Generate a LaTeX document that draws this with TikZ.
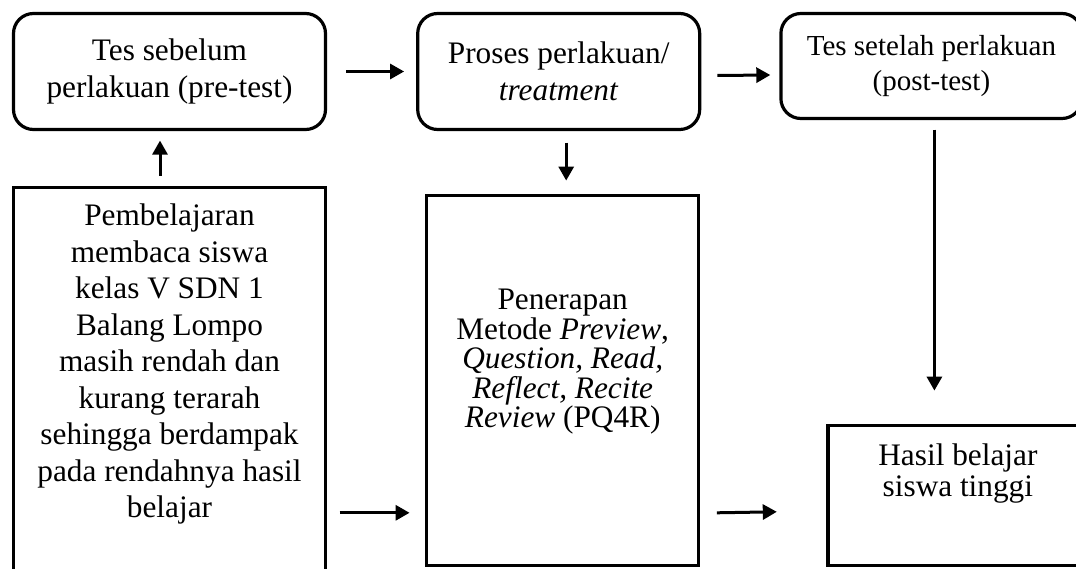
\documentclass[tikz,border=0pt]{standalone}
\usepackage{fontspec}
\setmainfont{Liberation Serif}
\usepackage{tikz}
\usetikzlibrary{positioning, arrows.meta}

\begin{document}
\begin{tikzpicture}[x=1pt, y=-1pt,
		roundbox/.style={draw, line width=3.2pt, rounded corners=20pt, align=center, inner sep=0pt, font=\fontsize{31.3}{37}\selectfont},
		plainbox/.style={draw, line width=3.2pt, inner sep=0pt},
		boxtext/.style={align=center, inner sep=0pt},
		flow/.style={-{Triangle[length=14pt, width=15pt]}, line width=3pt}]

	\useasboundingbox (0,0) rectangle (1076,569);
	\clip (0,0) rectangle (1076,569);

	% top row
	\node[roundbox, minimum width=312pt, minimum height=116pt] (pre) at (169.5,71.5) {Tes sebelum\\perlakuan (pre-test)};
	\node[roundbox, minimum width=282pt, minimum height=116pt, right=89pt of pre] (treat) {Proses perlakuan/\\\textit{treatment}};
	\node[roundbox, minimum width=301pt, minimum height=105pt, below right=0pt and 78pt of treat.north east, font=\fontsize{29}{35}\selectfont] (post) {Tes setelah perlakuan\\(post-test)};

	% lower row
	\node[plainbox, minimum width=312pt, minimum height=420pt, below=55pt of pre] (cond) {};
	\node[boxtext, below=17.5pt of cond.north, font=\fontsize{31.3}{36.5}\selectfont] (condtxt) {Pembelajaran\\membaca siswa\\kelas V SDN 1\\Balang Lompo\\masih rendah dan\\kurang terarah\\sehingga berdampak\\pada rendahnya hasil\\belajar};

	\node[plainbox, minimum width=272pt, minimum height=370pt, below=63pt of treat, xshift=4pt] (method) {};
	\node[boxtext, below=95pt of method.north, font=\fontsize{31.3}{29.5}\selectfont] (methodtxt) {Penerapan\\Metode \textit{Preview},\\\textit{Question, Read,}\\\textit{Reflect, Recite}\\\textit{Review} (PQ4R)};

	\node[plainbox, minimum width=260pt, minimum height=140pt, above right=0pt and 126pt of method.south east] (result) {};
	\node[boxtext, below=19.5pt of result.north, font=\fontsize{31.3}{31}\selectfont] (resulttxt) {Hasil belajar\\siswa tinggi};

	% arrows
	\draw[flow] ([xshift=19pt]pre.east) -- ([xshift=-12pt]treat.west);
	\draw[flow] ([shift={(16pt,-4pt)}]treat.east) -- ([shift={(-9pt,-9pt)}]post.west);
	\draw[flow] ([shift={(-9.5pt,10.5pt)}]cond.north) -- ([shift={(-9.5pt,-9.5pt)}]pre.south);
	\draw[flow] ([shift={(7.5pt,-11.5pt)}]treat.south) -- ([shift={(3.5pt,13.5pt)}]method.north);
	\draw[flow] ([shift={(3pt,-9.5pt)}]post.south) -- ([shift={(-23.5pt,33.5pt)}]result.north);
	\draw[flow] ([shift={(12.5pt,54.5pt)}]cond.east |- method.south) -- ([shift={(-15.5pt,54.5pt)}]method.south west);
	\draw[flow] ([shift={(16.5pt,54.5pt)}]method.south east) -- ([shift={(-49.5pt,55.5pt)}]result.south west);

\end{tikzpicture}
\end{document}
